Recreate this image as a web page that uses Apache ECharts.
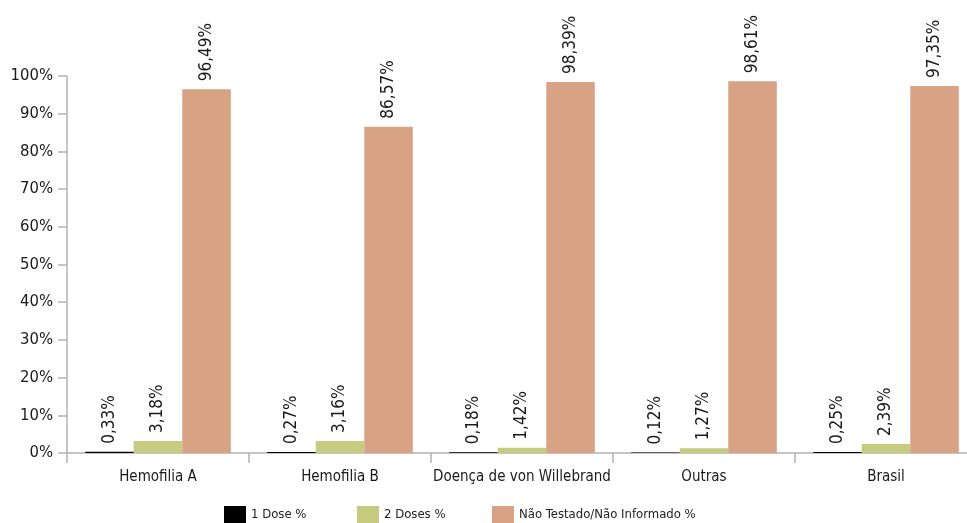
<!DOCTYPE html>
<html>
<head>
<meta charset="utf-8">
<script src="https://cdn.jsdelivr.net/npm/echarts@6/dist/echarts.min.js"></script>
<style>
html,body{margin:0;padding:0;background:#fff;overflow:hidden;width:967px;height:523px;}
#chart{width:980px;height:523px;}
</style>
</head>
<body>
<div id="chart"></div>
<script>
var categories = ['Hemofilia A', 'Hemofilia B', 'Doença de von Willebrand', 'Outras', 'Brasil'];
var seriesNames = ['1 Dose %', '2 Doses %', 'Não Testado/Não Informado %'];
var umaDose = [0.33, 0.27, 0.18, 0.12, 0.25];
var duasDoses = [3.18, 3.16, 1.42, 1.27, 2.39];
var naoTestado = [96.49, 86.57, 98.39, 98.61, 97.35];
var yTicks = [0, 10, 20, 30, 40, 50, 60, 70, 80, 90, 100];

var FONT = '"DejaVu Sans Condensed", "Liberation Sans Narrow", sans-serif';
var colors = ['#000000', '#c5cc80', '#d8a284'];
var legendLefts = [224, 357, 492];

function fmt(v) { return v.toFixed(2).replace('.', ',') + '%'; }

var labelCfg = {
  show: true,
  position: 'top',
  rotate: 90,
  align: 'left',
  verticalAlign: 'middle',
  distance: 8,
  color: '#1a1a1a',
  fontFamily: FONT,
  fontSize: 17,
  formatter: function (p) { return fmt(p.value); }
};

var dataSets = [umaDose, duasDoses, naoTestado];
var series = dataSets.map(function (d, i) {
  return {
    name: seriesNames[i],
    type: 'bar',
    data: d,
    barGap: '0%',
    barCategoryGap: '20%',
    itemStyle: { color: colors[i] },
    label: labelCfg
  };
});

var legends = seriesNames.map(function (n, i) {
  return {
    data: [n],
    left: legendLefts[i],
    top: 506,
    padding: 0,
    icon: 'rect',
    itemWidth: 22,
    itemHeight: 17,
    textStyle: { fontFamily: FONT, fontSize: 13, color: '#222' }
  };
});

var chart = echarts.init(document.getElementById('chart'), null, { renderer: 'canvas' });
chart.setOption({
  animation: false,
  color: colors,
  grid: { left: 67, right: 3, top: 76, bottom: 70 },
  legend: legends,
  xAxis: {
    type: 'category',
    data: categories,
    axisLine: { lineStyle: { color: '#b3b3b3', width: 1.5 } },
    axisTick: { show: true, length: 10, lineStyle: { color: '#b3b3b3', width: 1.5 } },
    axisLabel: { interval: 0, fontFamily: FONT, fontSize: 15, color: '#1a1a1a', margin: 17 }
  },
  yAxis: {
    type: 'value',
    min: 0,
    max: 100,
    interval: 10,
    splitLine: { show: false },
    axisLine: { show: true, lineStyle: { color: '#b3b3b3', width: 1.5 } },
    axisTick: { show: true, length: 9, lineStyle: { color: '#b3b3b3', width: 1.5 } },
    axisLabel: {
      fontFamily: FONT, fontSize: 16.5, color: '#1a1a1a', margin: 14,
      formatter: function (v) { return yTicks.indexOf(v) >= 0 ? v + '%' : ''; }
    }
  },
  series: series
});
</script>
</body>
</html>
